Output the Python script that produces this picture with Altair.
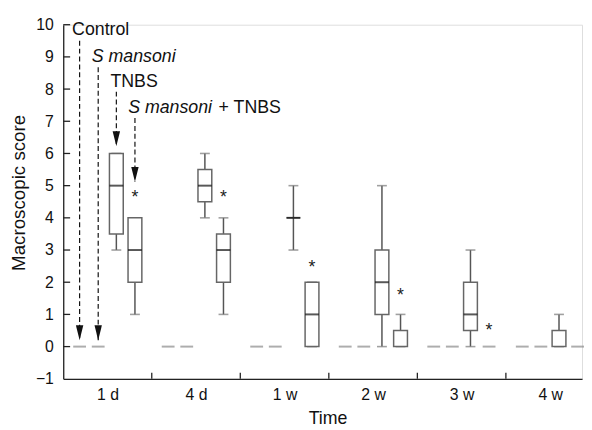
import json
import altair as alt
import pandas as pd

# ---------------- data ----------------
categories = ["1 d", "4 d", "1 w", "2 w", "3 w", "4 w"]
groups = ["Control", "S mansoni", "TNBS", "S mansoni + TNBS"]

control_min = [0, 0, 0, 0, 0, 0]
control_q1 = [0, 0, 0, 0, 0, 0]
control_med = [0, 0, 0, 0, 0, 0]
control_q3 = [0, 0, 0, 0, 0, 0]
control_max = [0, 0, 0, 0, 0, 0]

sm_min = [0, 0, 0, 0, 0, 0]
sm_q1 = [0, 0, 0, 0, 0, 0]
sm_med = [0, 0, 0, 0, 0, 0]
sm_q3 = [0, 0, 0, 0, 0, 0]
sm_max = [0, 0, 0, 0, 0, 0]

tnbs_min = [3, 4, 3, 0, 0, 0]
tnbs_q1 = [3.5, 4.5, 4, 1, 0.5, 0]
tnbs_med = [5, 5, 4, 2, 1, 0]
tnbs_q3 = [6, 5.5, 4, 3, 2, 0.5]
tnbs_max = [6, 6, 5, 5, 3, 1]

st_min = [1, 1, 0, 0, 0, 0]
st_q1 = [2, 2, 0, 0, 0, 0]
st_med = [3, 3, 1, 0, 0, 0]
st_q3 = [4, 3.5, 2, 0.5, 0, 0]
st_max = [4, 4, 2, 1, 0, 0]

# significance asterisks (above the S mansoni + TNBS group)
asterisk_cats = ["1 d", "4 d", "1 w", "2 w", "3 w"]
asterisk_y = [4.75, 4.75, 2.57, 1.68, 0.61]

# annotation labels with dashed arrows (pointing at the 1 d groups)
ann_groups = ["Control", "S mansoni", "TNBS", "S mansoni + TNBS"]
ann_text_x = [0.10, 0.322, 0.533, 0.733]
ann_text_y = [9.82, 8.99, 8.22, 7.40]
ann_line_top = [9.50, 8.68, 7.92, 7.10]
ann_tip = [0.20, 0.20, 6.23, 5.12]
ann_italic = [False, True, False, True]
ann_text = ["Control", "S mansoni", "TNBS", "S mansoni"]
extra_text = ["+ TNBS"]
extra_x = [1.755]
extra_y = [7.40]

# ---------------- layout constants ----------------
group_offset = {"Control": -0.315, "S mansoni": -0.105, "TNBS": 0.10, "S mansoni + TNBS": 0.31}
box_half = 0.078
W, H = 526, 359
XMAX = 5.86
FONT = "Liberation Sans"

stats = {
    "Control": (control_min, control_q1, control_med, control_q3, control_max),
    "S mansoni": (sm_min, sm_q1, sm_med, sm_q3, sm_max),
    "TNBS": (tnbs_min, tnbs_q1, tnbs_med, tnbs_q3, tnbs_max),
    "S mansoni + TNBS": (st_min, st_q1, st_med, st_q3, st_max),
}
rows = []
for i, c in enumerate(categories):
    for g in groups:
        mn, q1, md, q3, mx = (s[i] for s in stats[g])
        rows.append(dict(cat=c, idx=i, group=g, pos=i + 0.5 + group_offset[g],
                         mn=mn, q1=q1, med=md, q3=q3, mx=mx))
df = pd.DataFrame(rows)

ast_df = pd.DataFrame({
    "pos": [categories.index(c) + 0.5 + group_offset["S mansoni + TNBS"] for c in asterisk_cats],
    "y": asterisk_y,
})
ann_df = pd.DataFrame({
    "pos": [0.5 + group_offset[g] for g in ann_groups],
    "tx": ann_text_x, "ty": ann_text_y, "top": ann_line_top, "tip": ann_tip,
    "italic": ann_italic, "text": ann_text,
})
extra_df = pd.DataFrame({"tx": extra_x, "ty": extra_y, "text": extra_text})
ytick_df = pd.DataFrame({"v": list(range(0, 11))})
xtick_df = pd.DataFrame({"v": list(range(1, len(categories)))})

xscale = alt.Scale(domain=[0, XMAX], nice=False, zero=False)
yscale = alt.Scale(domain=[-1, 10], nice=False, zero=False)

label_expr = json.dumps(categories) + "[floor(datum.value)]"
x_axis = alt.Axis(values=[i + 0.5 for i in range(len(categories))], labelExpr=label_expr,
                  ticks=False, grid=False, domainColor="#222", domainWidth=1.3,
                  labelFont=FONT, labelFontSize=16, labelColor="#111", labelPadding=8,
                  labelOverlap=False,
                  title="Time", titleFont=FONT, titleFontSize=18, titleFontWeight="normal",
                  titleColor="#111", titleX=268, titleY=45, titleBaseline="alphabetic")
y_axis = alt.Axis(values=list(range(-1, 11)), ticks=False, grid=False, domainColor="#222",
                  domainWidth=1.3, labelFont=FONT, labelFontSize=16, labelColor="#111",
                  labelPadding=10, labelOverlap=False, labelFlush=False,
                  title="Macroscopic score", titleFont=FONT, titleFontSize=19,
                  titleFontWeight="normal", titleColor="#111", titleX=-39, titleY=170,
                  titleBaseline="alphabetic")


def XQ(field):
    return alt.X(field, type="quantitative", scale=xscale, axis=x_axis)


def YQ(field):
    return alt.Y(field, type="quantitative", scale=yscale, axis=y_axis)


base = alt.Chart(df)
boxdata = base.transform_filter("datum.mx > 0")
zerodata = base.transform_filter("datum.mx == 0")

# inward-pointing axis ticks
frame = alt.Chart(ytick_df).mark_rule(color="#222", strokeWidth=1.3).encode(
    x=alt.value(0), x2=alt.value(7), y=YQ("v"))
xticks = alt.Chart(xtick_df).mark_rule(color="#222", strokeWidth=1.3).encode(
    x=XQ("v"), y=alt.value(H), y2=alt.value(H - 6))

zero_dash = zerodata.mark_tick(orient="horizontal", size=13, thickness=2, color="#8a8a8a").encode(
    x=XQ("pos"), y=YQ("mn"))

wh_low = boxdata.mark_rule(color="#555", strokeWidth=1.5).encode(
    x=XQ("pos"), y=YQ("mn"), y2="q1:Q")
wh_high = boxdata.mark_rule(color="#555", strokeWidth=1.5).encode(
    x=XQ("pos"), y=YQ("q3"), y2="mx:Q")
cap_low = boxdata.mark_tick(orient="horizontal", size=10, thickness=1.6, color="#777").encode(
    x=XQ("pos"), y=YQ("mn"))
cap_high = boxdata.mark_tick(orient="horizontal", size=10, thickness=1.6, color="#777").encode(
    x=XQ("pos"), y=YQ("mx"))
boxes = boxdata.transform_calculate(
    xl=f"datum.pos - {box_half}", xr=f"datum.pos + {box_half}"
).mark_rect(fill="white", stroke="#666", strokeWidth=1.5).encode(
    x=XQ("xl"), x2="xr:Q", y=YQ("q1"), y2="q3:Q")
medians = boxdata.transform_filter("datum.med > 0").mark_tick(
    orient="horizontal", size=14, thickness=2, color="#111").encode(
    x=XQ("pos"), y=YQ("med"))

asterisks = alt.Chart(ast_df).mark_text(text="*", font=FONT, fontSize=18, color="#222",
                                        baseline="middle", dy=4).encode(
    x=XQ("pos"), y=YQ("y"))

ann = alt.Chart(ann_df)
ann_lines = ann.mark_rule(color="#111", strokeWidth=1.2, strokeDash=[5, 3]).encode(
    x=XQ("pos"), y=YQ("top"), y2="tip:Q")
ann_heads = ann.mark_point(shape="M-0.5,-2L0.5,-2L0,0Z", size=225, filled=True,
                           color="#111", opacity=1, strokeWidth=0).encode(
    x=XQ("pos"), y=YQ("tip"))
ann_text_up = ann.transform_filter("!datum.italic").mark_text(
    align="left", baseline="middle", font=FONT, fontSize=18, color="#111").encode(
    x=XQ("tx"), y=YQ("ty"), text="text:N")
ann_text_it = ann.transform_filter("datum.italic").mark_text(
    align="left", baseline="middle", font=FONT, fontSize=18, fontStyle="italic", color="#111").encode(
    x=XQ("tx"), y=YQ("ty"), text="text:N")
extra = alt.Chart(extra_df).mark_text(
    align="left", baseline="middle", font=FONT, fontSize=18, color="#111").encode(
    x=XQ("tx"), y=YQ("ty"), text="text:N")

chart = alt.layer(
    frame, xticks, zero_dash, wh_low, wh_high, cap_low, cap_high, boxes, medians,
    asterisks, ann_lines, ann_heads, ann_text_up, ann_text_it, extra,
).properties(
    width=W, height=H,
    autosize=alt.AutoSizeParams(type="none"),
    padding={"left": 56, "top": 14, "right": 2, "bottom": 50},
).configure_view(stroke=None).configure(background="white")

chart.save("out.html", embed_options={"renderer": "svg", "actions": False})
